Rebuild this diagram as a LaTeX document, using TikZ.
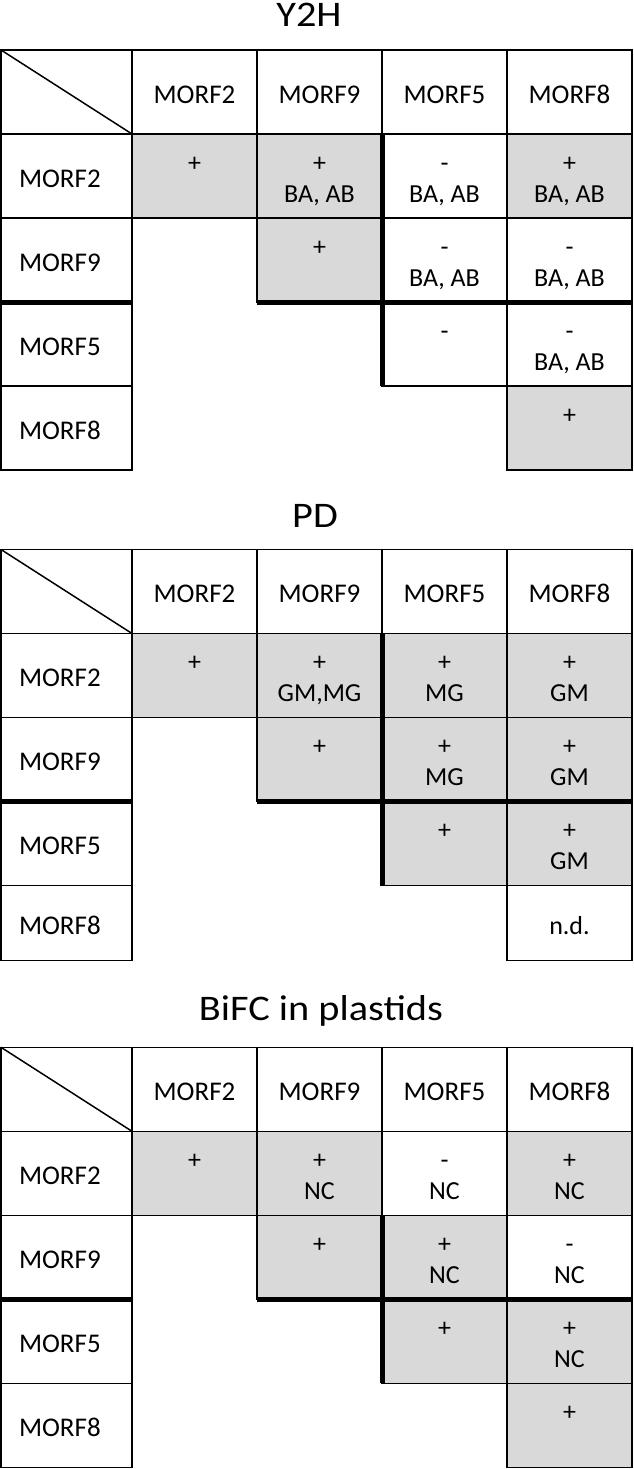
\documentclass[tikz,border=0pt]{standalone}
\usepackage{fontspec}
\setmainfont{Carlito}
\newfontfamily\titlefont{Carlito}[FakeStretch=1.12]
\definecolor{hitgray}{RGB}{217,217,217}

% header row and row names, the same in all three tables
\newcommand{\morfgrid}{%
  \node[cell, minimum width=131pt] (h0) at (1,0) {};
  \draw (h0.north west) -- (h0.south east);
  \foreach \n [count=\i] in {2,9,5,8} {
    \node[cell] (h\i) at (7+125*\i,0) {MORF\n};
    \node[cell, rowname, row\i] (r\i) at (1,84*\i) {MORF\n};
  }%
}

\begin{document}
\begin{tikzpicture}[x=1pt, y=-1pt, line width=1.5pt,
  cell/.style={draw, anchor=north west, minimum width=125pt, minimum height=84pt,
    inner sep=0pt, outer sep=0pt, text height=22.8pt, text depth=0pt,
    font=\fontsize{27}{32}\selectfont},
  rowname/.style={minimum width=131pt, text width=95pt, inner xsep=18pt, align=left},
  row1/.style={}, row2/.style={}, row3/.style={}, row4/.style={},
  val/.style={anchor=base, inner sep=0pt, font=\fontsize{26}{31}\selectfont},
  title/.style={anchor=base, inner sep=0pt, font=\titlefont\fontsize{36}{43}\selectfont},
  bar/.style={line width=5pt}]
\useasboundingbox (0,0) rectangle (633,1469);

% Y2H
\begin{scope}[shift={(0,50)}, name prefix=y2h-]
\node[title] (title) at (309,-23) {Y2H};
\morfgrid
\foreach \r/\c/\f/\a in {1/1/hitgray/+, 1/2/hitgray/+, 1/3/white/-, 1/4/hitgray/+,
    2/2/hitgray/+, 2/3/white/-, 2/4/white/-, 3/3/white/-, 3/4/white/-, 4/4/hitgray/+} {
  \node[cell, fill=\f, row\r] (c\r\c) at (7+125*\c,84*\r) {};
  \node[val] (t\r\c) at ([yshift=-37pt]c\r\c.north) {\a};
}
\foreach \r/\c in {1/2, 1/3, 1/4, 2/3, 2/4, 3/4}
  \node[val] (u\r\c) at ([yshift=-68pt]c\r\c.north) {BA, AB};
\draw[bar] (r2.south west) -- (r2.south east);
\draw[bar] (c22.south west) -- (c24.south east);
\draw[bar] (c13.north west) -- (c33.south west);
\end{scope}

% PD
\begin{scope}[shift={(0,549.5)}, name prefix=pd-, row4/.style={minimum height=75pt}]
\node[title] (title) at (315,-22.5) {PD};
\morfgrid
\foreach \r/\c/\f/\a in {1/1/hitgray/+, 1/2/hitgray/+, 1/3/hitgray/+, 1/4/hitgray/+,
    2/2/hitgray/+, 2/3/hitgray/+, 2/4/hitgray/+, 3/3/hitgray/+, 3/4/hitgray/+} {
  \node[cell, fill=\f, row\r] (c\r\c) at (7+125*\c,84*\r) {};
  \node[val] (t\r\c) at ([yshift=-37pt]c\r\c.north) {\a};
}
\foreach \r/\c/\b in {1/2/{GM,MG}, 1/3/MG, 1/4/GM, 2/3/MG, 2/4/GM, 3/4/GM}
  \node[val] (u\r\c) at ([yshift=-68pt]c\r\c.north) {\b};
\node[cell, row4, font=\fontsize{26}{31}\selectfont] (c44) at (507,336) {n.d.};
\draw[bar] (r2.south west) -- (r2.south east);
\draw[bar] (c22.south west) -- (c24.south east);
\draw[bar] (c13.north west) -- (c33.south west);
\end{scope}

% BiFC
\begin{scope}[shift={(0,1047.3)}, name prefix=bifc-]
\node[title] (title) at (321,-27) {BiFC in plastids};
\morfgrid
\foreach \r/\c/\f/\a in {1/1/hitgray/+, 1/2/hitgray/+, 1/3/white/-, 1/4/hitgray/+,
    2/2/hitgray/+, 2/3/hitgray/+, 2/4/white/-, 3/3/hitgray/+, 3/4/hitgray/+, 4/4/hitgray/+} {
  \node[cell, fill=\f, row\r] (c\r\c) at (7+125*\c,84*\r) {};
  \node[val] (t\r\c) at ([yshift=-37pt]c\r\c.north) {\a};
}
\foreach \r/\c in {1/2, 1/3, 1/4, 2/3, 2/4, 3/4}
  \node[val] (u\r\c) at ([yshift=-68pt]c\r\c.north) {NC};
\draw[bar] (r2.south west) -- (r2.south east);
\draw[bar] (c22.south west) -- (c24.south east);
\draw[bar] (c23.north west) -- (c33.south west);
\end{scope}
\end{tikzpicture}
\end{document}
